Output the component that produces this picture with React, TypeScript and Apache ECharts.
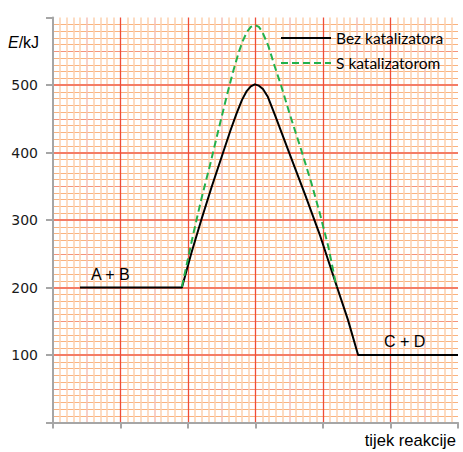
import React, { useEffect, useRef } from "react";
import * as echarts from "echarts";

// Reaction coordinate (x, arbitrary units 0–600) and energy E/kJ (y)
const withoutCatalystX = [40, 191, 205, 220, 235, 252, 263, 272, 280, 287, 293, 299, 305, 311, 318, 329, 349, 374, 396, 420, 437, 452, 600];
const withoutCatalystE = [200, 200, 251, 301, 349, 400, 433, 458, 478, 491, 498, 501, 499, 494, 483, 455, 402, 336, 276, 203, 152, 100, 100];

const withCatalystX = [191, 208, 220, 233, 245, 257, 266, 275, 281, 287, 293, 299, 305, 310, 319, 328, 338, 351, 368, 383, 395, 408, 420];
const withCatalystE = [201, 280, 332, 383, 433, 482, 517, 548, 565, 578, 586, 589, 586, 579, 558, 529, 499, 456, 403, 354, 311, 260, 201];

const seriesNames = ["Bez katalizatora", "S katalizatorom"];
const yTickValues = [100, 200, 300, 400, 500];
const axisMin = 0;
const axisMax = 600;

const GRAY = "#a6a6a6";
const MINOR_H = "#f9b380";
const MINOR_V = "#fcd0ae";
const MID_H = "#f4937a";
const MID_V = "#f6c0b6";
const MAJOR_H = "#f47d66";
const MAJOR_V = "#ef4e38";

export default function App() {
  const ref = useRef<HTMLDivElement>(null);
  useEffect(() => {
    if (!ref.current) return;
    const chart = echarts.init(ref.current, null, { renderer: "svg" });
    const black = withoutCatalystX.map((x, i) => [x, withoutCatalystE[i]]);
    const green = withCatalystX.map((x, i) => [x, withCatalystE[i]]);
    const helperAxis = (isX: boolean, midColor: string, minorColor: string, w: number) => ({
      type: "value",
      min: axisMin,
      max: axisMax,
      interval: 50,
      position: isX ? "top" : "right",
      z: 0,
      axisLine: { show: false },
      axisTick: { show: false },
      axisLabel: { show: false },
      minorTick: { show: false, splitNumber: 5 },
      splitLine: { show: true, lineStyle: { color: ["rgba(0,0,0,0)", midColor], width: w } },
      minorSplitLine: { show: true, lineStyle: { color: minorColor, width: w } },
    });
    chart.setOption({
      animation: false,
      backgroundColor: "#ffffff",
      grid: { left: 53, right: 5, top: 17.5, bottom: 29.5 },
      legend: {
        data: seriesNames,
        orient: "vertical",
        left: 275,
        top: 25,
        itemWidth: 50,
        itemHeight: 18,
        itemGap: 9,
        itemStyle: { opacity: 0, borderWidth: 0 },
        textStyle: { fontFamily: "Lato", fontSize: 15.5, color: "#000" },
      },
      xAxis: [
        helperAxis(true, MID_V, MINOR_V, 1.5),
        {
          type: "value",
          min: axisMin,
          max: axisMax,
          interval: 100,
          position: "bottom",
          z: 1,
          axisLine: { show: true, lineStyle: { color: GRAY, width: 2 } },
          axisTick: { show: true, inside: false, length: 6, lineStyle: { color: GRAY, width: 2 } },
          axisLabel: { show: false },
          splitLine: { show: true, showMinLine: false, showMaxLine: false, lineStyle: { color: MAJOR_V, width: 1.3 } },
        },
      ],
      yAxis: [
        helperAxis(false, MID_H, MINOR_H, 1),
        {
          type: "value",
          min: axisMin,
          max: axisMax,
          interval: 100,
          position: "left",
          z: 1,
          axisLine: { show: true, lineStyle: { color: GRAY, width: 2 } },
          axisTick: { show: true, inside: false, length: 7, lineStyle: { color: GRAY, width: 2 } },
          axisLabel: {
            show: true,
            margin: 15,
            fontFamily: "DejaVu Sans",
            fontSize: 14,
            color: "#1a1a1a",
            formatter: (v: number) => (yTickValues.includes(v) ? String(v) : ""),
          },
          splitLine: { show: true, showMinLine: false, showMaxLine: false, lineStyle: { color: MAJOR_H, width: 2 } },
        },
      ],
      series: [
        {
          name: seriesNames[0],
          type: "line",
          xAxisIndex: 1,
          yAxisIndex: 1,
          data: black,
          symbol: "none",
          smooth: false,
          lineStyle: { color: "#000000", width: 2, join: "round" },
          itemStyle: { color: "#000000" },
          z: 3,
        },
        {
          name: seriesNames[1],
          type: "line",
          xAxisIndex: 1,
          yAxisIndex: 1,
          data: green,
          symbol: "none",
          smooth: false,
          lineStyle: { color: "#22b14c", width: 2, type: [7, 4], join: "round" },
          itemStyle: { color: "#22b14c" },
          z: 4,
        },
      ],
      graphic: [
        {
          type: "text",
          style: {
            x: 8,
            y: 42,
            text: "{i|E}/kJ",
            verticalAlign: "middle",
            fontFamily: "Liberation Sans",
            fontSize: 16,
            fill: "#000",
            rich: { i: { fontStyle: "italic", fontFamily: "Liberation Sans", fontSize: 16, fill: "#000" } },
          },
        },
        {
          type: "text",
          style: { x: 91, y: 274, text: "A + B", verticalAlign: "middle", fontFamily: "Liberation Sans", fontSize: 16, fill: "#000" },
          z: 10,
        },
        {
          type: "text",
          style: { x: 384, y: 341.5, text: "C + D", verticalAlign: "middle", fontFamily: "Liberation Sans", fontSize: 16, fill: "#000" },
          z: 10,
        },
        {
          type: "text",
          style: { x: 456, y: 440, text: "tijek reakcije", align: "right", verticalAlign: "middle", fontFamily: "Liberation Sans", fontSize: 16.6, fill: "#000" },
        },
      ],
    });
    return () => chart.dispose();
  }, []);
  return <div ref={ref} style={{ position: "absolute", left: 0, top: 0, width: 463, height: 452 }} />;
}
